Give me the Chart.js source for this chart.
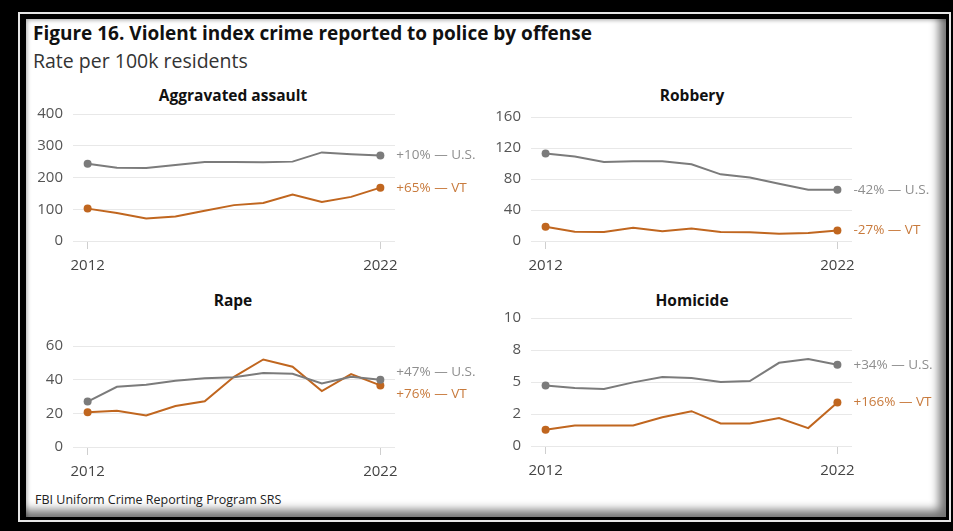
<!DOCTYPE html>
<html>
<head>
<meta charset="utf-8">
<script src="https://cdn.jsdelivr.net/npm/chart.js@4.4.0/dist/chart.umd.min.js"></script>
<style>
  body { margin: 0; width: 953px; height: 531px; overflow: hidden; background: #000; font-family: "Open Sans", "Noto Sans", sans-serif; }
  #frame { position: absolute; left: 18px; top: 12px; width: 929px; height: 506px; border: 2px solid #e6e6e6; background: #000; }
  #page { position: absolute; left: 6px; top: 5px; right: 3px; bottom: 3px; background: #fff;
          box-shadow: inset -12px -12px 10px -5px rgba(0,0,0,0.55), inset 3px 3px 4px -2px rgba(0,0,0,0.35); }
  .txt { position: absolute; white-space: nowrap; color: #111; }
  #title { left: 33px; top: 20px; font-size: 19px; font-weight: 700; }
  #subtitle { left: 33px; top: 47px; font-size: 19.5px; color: #333; }
  .ptitle { font-size: 15.5px; font-weight: 700; transform: translateX(-50%); }
  #source { left: 35px; top: 491px; font-size: 12.5px; color: #222; }
  canvas { position: absolute; }
</style>
</head>
<body>
<div id="frame"><div id="page"></div></div>
<div class="txt" id="title">Figure 16. Violent index crime reported to police by offense</div>
<div class="txt" id="subtitle">Rate per 100k residents</div>
<div class="txt ptitle" style="left:233px; top:84px;">Aggravated assault</div>
<div class="txt ptitle" style="left:692px; top:84px;">Robbery</div>
<div class="txt ptitle" style="left:233px; top:289px;">Rape</div>
<div class="txt ptitle" style="left:692px; top:289px;">Homicide</div>
<div class="txt" id="source">FBI Uniform Crime Reporting Program SRS</div>

<canvas id="assaultCanvas" width="460" height="185" style="left:25px; top:95px;"></canvas>
<canvas id="robberyCanvas" width="460" height="182" style="left:483px; top:98px;"></canvas>
<canvas id="rapeCanvas" width="460" height="166" style="left:25px; top:320px;"></canvas>
<canvas id="homicideCanvas" width="460" height="186" style="left:483px; top:299px;"></canvas>

<script>
var years = ['2012', '2013', '2014', '2015', '2016', '2017', '2018', '2019', '2020', '2021', '2022'];

var assaultUS = [243, 231, 230, 239, 249, 249, 248, 250, 279, 273, 269];
var assaultVT = [102, 88, 71, 77, 95, 113, 120, 146, 123, 139, 168];
var robberyUS = [113, 109, 102, 103, 103, 99, 86, 82, 74, 66, 66];
var robberyVT = [18.5, 12, 11.6, 17.2, 12.5, 16, 11.6, 11.2, 9.5, 10.3, 13.4];
var rapeUS = [27, 35.8, 37, 39.3, 40.8, 41.5, 43.9, 43.5, 37.8, 41.7, 40];
var rapeVT = [20.7, 21.5, 18.7, 24.3, 27.2, 41.7, 52, 47.7, 33.2, 43.3, 36.6];
var homicideUS = [4.72, 4.53, 4.46, 4.97, 5.39, 5.31, 5.0, 5.08, 6.5, 6.79, 6.35];
var homicideVT = [1.27, 1.61, 1.61, 1.61, 2.25, 2.72, 1.76, 1.76, 2.18, 1.4, 3.4];

var assaultChange = ['+10% \u2014 U.S.', '+65% \u2014 VT'];
var robberyChange = ['-42% \u2014 U.S.', '-27% \u2014 VT'];
var rapeChange = ['+47% \u2014 U.S.', '+76% \u2014 VT'];
var homicideChange = ['+34% \u2014 U.S.', '+166% \u2014 VT'];

var homicideTickLabels = ['0', '2', '5', '8', '10'];

var crimeCharts = (function () {

    var mod = {};

    var US_COLOR = '#7b7b7b';
    var VT_COLOR = '#c0661f';
    var FONT = '"Open Sans", "Noto Sans", sans-serif';

    Chart.defaults.font.family = FONT;
    Chart.defaults.font.size = 15;
    Chart.defaults.color = '#555';

    // text like "+10% - U.S." next to the last point of each line
    var endLabels = {
        id: 'endLabels',
        afterDatasetsDraw: function (chart, args, opts) {
            var ctx = chart.ctx;
            chart.data.datasets.forEach(function (ds, i) {
                var meta = chart.getDatasetMeta(i);
                var pt = meta.data[meta.data.length - 1];
                ctx.save();
                ctx.font = '13.5px ' + FONT;
                ctx.fillStyle = ds.endColor;
                ctx.textBaseline = 'middle';
                ctx.fillText(ds.endLabel, pt.x + 16, pt.y + (opts.nudge ? opts.nudge[i] : 0));
                ctx.restore();
            });
        }
    };

    var endDots = function (c) {
        return (c.dataIndex === 0 || c.dataIndex === years.length - 1) ? 4 : 0;
    };

    mod.renderChart = function (elem, us, vt, labels, axis, pad) {
        var ctx = document.getElementById(elem);
        return new Chart(ctx, {
            type: 'line',
            data: {
                labels: years,
                datasets: [
                    {
                        data: us,
                        borderColor: US_COLOR,
                        backgroundColor: US_COLOR,
                        borderWidth: 2,
                        pointRadius: endDots,
                        pointBorderWidth: 0,
                        endLabel: labels[0],
                        endColor: '#8e8e8e'
                    },
                    {
                        data: vt,
                        borderColor: VT_COLOR,
                        backgroundColor: VT_COLOR,
                        borderWidth: 2,
                        pointRadius: endDots,
                        pointBorderWidth: 0,
                        endLabel: labels[1],
                        endColor: '#c87a3c'
                    }
                ]
            },
            options: {
                responsive: false,
                animation: false,
                events: [],
                layout: { padding: { top: pad.top, right: pad.right, left: 0, bottom: 0 } },
                plugins: {
                    legend: { display: false },
                    tooltip: { enabled: false },
                    endLabels: { nudge: pad.nudge }
                },
                scales: {
                    x: {
                        offset: true,
                        border: { display: false },
                        grid: {
                            drawOnChartArea: false,
                            tickLength: 8,
                            color: function (c) {
                                return (c.index === 0 || c.index === years.length - 1) ? '#cfcfcf' : 'rgba(0,0,0,0)';
                            }
                        },
                        ticks: {
                            autoSkip: false,
                            maxRotation: 0,
                            padding: 8,
                            color: '#444',
                            callback: function (v, i) {
                                return (i === 0 || i === years.length - 1) ? years[i] : '';
                            }
                        },
                        afterFit: function (s) { s.height = 39; }
                    },
                    y: {
                        min: 0,
                        max: axis.max,
                        border: { display: false },
                        grid: { color: '#e8e8e8', drawTicks: false },
                        ticks: {
                            stepSize: axis.step,
                            padding: 10,
                            color: '#555',
                            callback: axis.tickLabels ? function (v, i) { return axis.tickLabels[i]; } : undefined
                        },
                        afterFit: function (s) { s.width = 48; }
                    }
                }
            },
            plugins: [endLabels]
        });
    };

    mod.drawCharts = function () {
        // the y ticks already keep ~19px free above the plot, so small top paddings do nothing
        mod.renderChart('assaultCanvas', assaultUS, assaultVT, assaultChange,
            { max: 400, step: 100 }, { top: 0, right: 90 });
        mod.renderChart('robberyCanvas', robberyUS, robberyVT, robberyChange,
            { max: 160, step: 40 }, { top: 0, right: 91 });
        mod.renderChart('rapeCanvas', rapeUS, rapeVT, rapeChange,
            { max: 60, step: 20 }, { top: 26, right: 90, nudge: [-8, 9] });
        mod.renderChart('homicideCanvas', homicideUS, homicideVT, homicideChange,
            { max: 10, step: 2.5, tickLabels: homicideTickLabels }, { top: 0, right: 91 });
    };

    return mod;

}());

crimeCharts.drawCharts();
</script>
</body>
</html>
